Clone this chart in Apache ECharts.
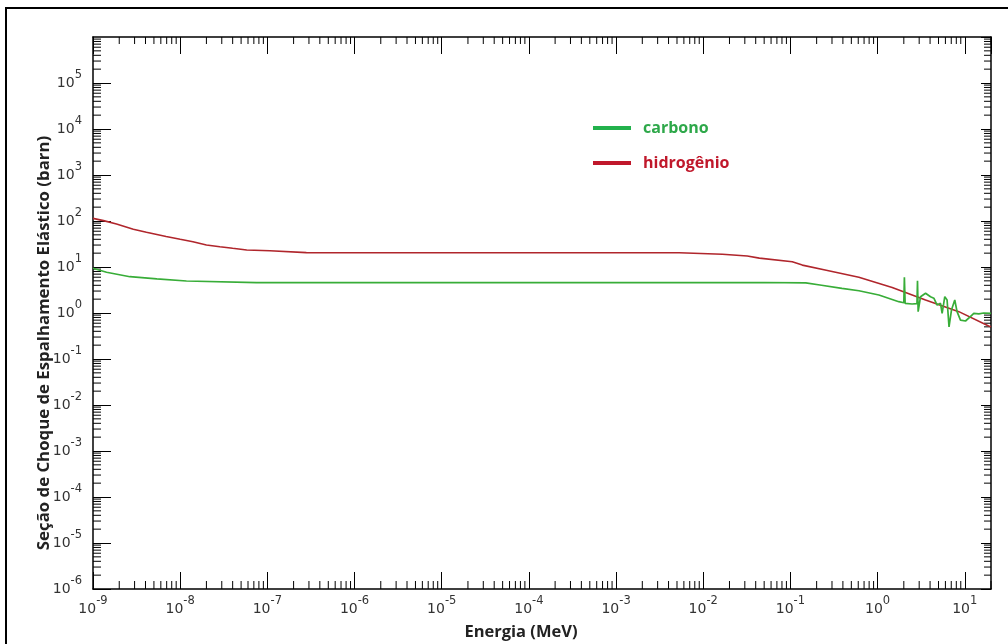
<!DOCTYPE html>
<html>
<head>
<meta charset="utf-8">
<script src="https://cdn.jsdelivr.net/npm/echarts@6/dist/echarts.min.js"></script>
<style>
html,body{margin:0;padding:0;background:#fff;}
#chart{width:1008px;height:644px;}
</style>
</head>
<body>
<div id="chart"></div>
<script>
// ---- data (energy in MeV, cross section in barn) ----
const seriesNames = ['carbono', 'hidrogênio'];

const carbonE = [1e-9, 1.43e-9, 2.65e-9, 5.4e-9, 1.18e-8, 7.5e-8, 5e-2, 0.15, 0.218, 0.39, 0.611, 1.035, 1.75,
  2.0, 2.03, 2.07, 2.49, 2.83, 2.87, 2.92, 3.11, 3.55, 4.05, 4.42, 4.82, 5.27, 5.5, 5.9, 6.27, 6.5, 6.6, 7.04,
  7.68, 8.16, 8.93, 10.2, 11.6, 12.7, 14.5, 16.5, 20];
const carbonXS = [9.4, 7.7, 6.15, 5.5, 4.96, 4.56, 4.6, 4.5, 4.06, 3.44, 3.05, 2.46, 1.76,
  1.67, 5.97, 1.62, 1.57, 1.6, 5.03, 1.07, 2.26, 2.68, 2.26, 2.1, 1.49, 1.62, 0.98, 2.26, 1.92, 2.0, 0.5, 1.16,
  1.92, 1.07, 0.7, 0.67, 0.83, 0.98, 0.96, 1.0, 0.98];

const hydrogenE = [1e-9, 1.32e-9, 1.86e-9, 2.9e-9, 4.1e-9, 6.9e-9, 1.0e-8, 1.4e-8, 2.0e-8, 2.85e-8, 4.0e-8,
  5.8e-8, 1.07e-7, 2.8e-7, 5.3e-3, 1.66e-2, 3.2e-2, 4.4e-2, 0.105, 0.137, 0.25, 0.61, 1.47, 3.55, 8.55, 18.8, 20];
const hydrogenXS = [114, 102, 86, 66, 57, 46, 40, 35.5, 30, 27.6, 25.5,
  23.4, 22.6, 20.5, 20.4, 18.9, 17.3, 15.6, 13, 11, 8.6, 6.0, 3.6, 1.92, 1.07, 0.52, 0.5];

// axis ranges and tick decorations
const xRange = [1e-9, 20];
const yRange = [1e-6, 1e6];
const xDecades = [-9, -8, -7, -6, -5, -4, -3, -2, -1, 0, 1];
const yDecades = [-6, -5, -4, -3, -2, -1, 0, 1, 2, 3, 4, 5, 6];
const minorMultipliers = [2, 3, 4, 5, 6, 7, 8, 9];

const xMinor = [];
xDecades.forEach(d => minorMultipliers.forEach(m => { const v = m * Math.pow(10, d); if (v <= xRange[1]) xMinor.push(v); }));
const yMinor = [];
yDecades.forEach(d => minorMultipliers.forEach(m => { const v = m * Math.pow(10, d); if (v <= yRange[1]) yMinor.push(v); }));

const zip = (a, b) => a.map((v, i) => [v, b[i]]);

const tickFont = 'DejaVu Sans';
const richLabel = {
  b: { fontSize: 14, fontFamily: tickFont, color: '#333', lineHeight: 21, verticalAlign: 'bottom' },
  s: { fontSize: 11.5, fontFamily: tickFont, color: '#333', lineHeight: 12, verticalAlign: 'top' }
};
function expFormatter(v) {
  const e = Math.round(Math.log10(v));
  return '{b|10}{s|' + (e < 0 ? '-' + (-e) : e) + '}';
}

const grid = { left: 93, top: 37, right: 17, bottom: 55 };

const chart = echarts.init(document.getElementById('chart'), null, { renderer: 'canvas' });

const axisLine = { show: true, onZero: false, lineStyle: { color: '#000', width: 1.5 } };

chart.setOption({
  backgroundColor: '#fff',
  animation: false,
  grid: grid,
  legend: {
    left: 588, top: 113, orient: 'vertical', itemGap: 15,
    icon: 'rect', itemWidth: 38, itemHeight: 4,
    textStyle: { fontFamily: 'Open Sans', fontWeight: 'bold', fontSize: 16, lineHeight: 20, padding: [0, 0, 0, 7] },
    data: [
      { name: seriesNames[0], itemStyle: { color: '#22b14c' }, textStyle: { color: '#2ea84a' } },
      { name: seriesNames[1], itemStyle: { color: '#c0182b' }, textStyle: { color: '#c0182b' } }
    ]
  },
  xAxis: [
    {
      type: 'log', logBase: 10, min: xRange[0], max: xRange[1], interval: 1,
      position: 'bottom', axisLine: axisLine,
      axisTick: { show: true, inside: true, length: 17, lineStyle: { color: '#000', width: 1 } },
      axisLabel: { show: true, showMaxLabel: false, margin: 6, formatter: expFormatter, rich: richLabel },
      splitLine: { show: false }
    },
    {
      type: 'log', logBase: 10, min: xRange[0], max: xRange[1], interval: 1,
      position: 'top', axisLine: axisLine,
      axisTick: { show: true, inside: true, length: 17, lineStyle: { color: '#000', width: 1 } },
      axisLabel: { show: false }, splitLine: { show: false }
    }
  ],
  yAxis: [
    {
      type: 'log', logBase: 10, min: yRange[0], max: yRange[1], interval: 1,
      position: 'left', axisLine: axisLine,
      axisTick: { show: true, inside: true, length: 18, lineStyle: { color: '#000', width: 1 } },
      axisLabel: { show: true, showMaxLabel: false, margin: 11, padding: [0, 0, 7, 0], formatter: expFormatter, rich: richLabel },
      splitLine: { show: false }
    },
    {
      type: 'log', logBase: 10, min: yRange[0], max: yRange[1], interval: 1,
      position: 'right', axisLine: axisLine,
      axisTick: { show: true, inside: true, length: 10, lineStyle: { color: '#000', width: 1 } },
      axisLabel: { show: false }, splitLine: { show: false }
    }
  ],
  series: [
    {
      name: seriesNames[0], type: 'line', data: zip(carbonE, carbonXS), symbol: 'none',
      lineStyle: { color: '#38ad38', width: 1.7 }, itemStyle: { color: '#38ad38' }, z: 4
    },
    {
      name: seriesNames[1], type: 'line', data: zip(hydrogenE, hydrogenXS), symbol: 'none',
      lineStyle: { color: '#b0262c', width: 1.6 }, itemStyle: { color: '#b0262c' }, z: 3
    },
    {
      name: 'xMinor', type: 'custom', silent: true, clip: false,
      data: xMinor.map(v => [v, 1]),
      renderItem: function (params, api) {
        const v = api.value(0);
        const b = api.coord([v, yRange[0]]);
        const t = api.coord([v, yRange[1]]);
        const st = { stroke: '#000', lineWidth: 1 };
        return { type: 'group', children: [
          { type: 'line', shape: { x1: b[0], y1: b[1], x2: b[0], y2: b[1] - 8 }, style: st },
          { type: 'line', shape: { x1: t[0], y1: t[1], x2: t[0], y2: t[1] + 7 }, style: st }
        ] };
      }
    },
    {
      name: 'yMinor', type: 'custom', silent: true, clip: false,
      data: yMinor.map(v => [1, v]),
      renderItem: function (params, api) {
        const v = api.value(1);
        const l = api.coord([xRange[0], v]);
        const r = api.coord([xRange[1], v]);
        const st = { stroke: '#000', lineWidth: 1 };
        return { type: 'group', children: [
          { type: 'line', shape: { x1: l[0], y1: l[1], x2: l[0] + 8, y2: l[1] }, style: st },
          { type: 'line', shape: { x1: r[0], y1: r[1], x2: r[0] - 7, y2: r[1] }, style: st }
        ] };
      }
    }
  ],
  graphic: [
    { type: 'rect', shape: { x: 6, y: 8, width: 1010, height: 650 }, style: { fill: 'none', stroke: '#000', lineWidth: 2 }, silent: true },
    { type: 'text', x: 44, y: 343, rotation: Math.PI / 2,
      style: { text: 'Seção de Choque de Espalhamento Elástico (barn)', fill: '#222', font: 'bold 16.8px "Open Sans"', align: 'center', verticalAlign: 'middle' } },
    { type: 'text', x: 521, y: 632,
      style: { text: 'Energia (MeV)', fill: '#222', font: 'bold 16.5px "Open Sans"', align: 'center', verticalAlign: 'middle' } }
  ]
});
</script>
</body>
</html>
